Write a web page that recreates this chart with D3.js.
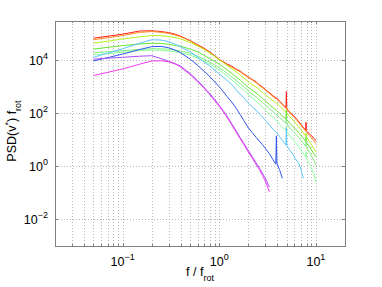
<!DOCTYPE html>
<html>
<head>
<meta charset="utf-8">
<script src="https://cdn.jsdelivr.net/npm/d3@7"></script>
<style>
  body { margin: 0; background: #fff; }
  svg { display: block; font-family: "Liberation Sans", Arial, sans-serif; }
</style>
</head>
<body>
<div id="chart"></div>
<script>
// frequency bins (f / f_rot)
const freq = [0.05, 0.1, 0.15, 0.2, 0.25, 0.3, 0.35, 0.4, 0.5, 0.6, 0.7, 0.8, 0.9, 1.0,
  1.1, 1.2, 1.35, 1.5, 1.65, 1.8, 2.0, 2.2, 2.4, 2.6, 2.8, 3.0, 3.3, 3.6,
  3.85, 3.9, 3.95, 4.2, 4.5, 4.9, 4.95, 5.0, 5.4, 5.8, 6.2, 6.6, 7.0, 7.4,
  7.85, 7.9, 7.95, 8.2, 8.6, 9.0, 9.5, 10];

// log10 of PSD(v*) f_rot (one array per curve)
const red = [4.83, 4.98, 5.10, 5.11, 5.08, 5.04, 4.98, 4.90, 4.74, 4.58, 4.45, 4.31, 4.17, 4.03,
  3.94, 3.86, 3.77, 3.66, 3.59, 3.48, 3.37, 3.27, 3.19, 3.07, 2.99, 2.90, 2.78, 2.66,
  2.59, 2.56, 2.57, 2.46, 2.36, 2.20, 2.82, 2.16, 2.03, 1.93, 1.82, 1.70, 1.58, 1.47,
  1.36, 1.66, 1.33, 1.30, 1.22, 1.16, 1.06, 0.97];
const orange = [4.77, 4.93, 5.05, 5.08, 5.05, 5.01, 4.95, 4.88, 4.73, 4.56, 4.42, 4.29, 4.15, 4.02,
  3.92, 3.83, 3.74, 3.64, 3.56, 3.46, 3.35, 3.25, 3.16, 3.05, 2.96, 2.88, 2.75, 2.63,
  2.55, 2.54, 2.52, 2.43, 2.32, 2.18, 2.24, 2.15, 2.00, 1.89, 1.78, 1.66, 1.55, 1.43,
  1.33, 1.38, 1.31, 1.25, 1.16, 1.08, 0.98, 0.86];
const lime = [4.64, 4.80, 4.88, 4.93, 4.92, 4.89, 4.85, 4.80, 4.67, 4.53, 4.40, 4.27, 4.14, 4.01,
  3.91, 3.81, 3.68, 3.56, 3.44, 3.33, 3.18, 3.08, 2.99, 2.88, 2.79, 2.70, 2.58, 2.47,
  2.40, 2.38, 2.37, 2.28, 2.17, 2.04, 2.12, 2.01, 1.86, 1.74, 1.62, 1.50, 1.38, 1.26,
  1.15, 1.24, 1.13, 1.04, 0.93, 0.82, 0.68, 0.55];
const green = [4.42, 4.55, 4.61, 4.64, 4.63, 4.60, 4.56, 4.52, 4.42, 4.31, 4.18, 4.06, 3.95, 3.85,
  3.75, 3.64, 3.50, 3.37, 3.25, 3.12, 2.98, 2.87, 2.77, 2.66, 2.56, 2.47, 2.33, 2.21,
  2.13, 2.11, 2.10, 2.00, 1.90, 1.78, 2.08, 1.76, 1.62, 1.50, 1.39, 1.28, 1.17, 1.06,
  0.95, 1.12, 0.93, 0.84, 0.73, 0.62, 0.49, 0.36];
const lightGreen = [4.28, 4.36, 4.41, 4.43, 4.43, 4.41, 4.38, 4.35, 4.26, 4.15, 4.04, 3.93, 3.82, 3.72,
  3.62, 3.51, 3.37, 3.24, 3.11, 2.99, 2.84, 2.72, 2.62, 2.51, 2.41, 2.32, 2.18, 2.06,
  1.97, 1.95, 1.94, 1.84, 1.74, 1.62, 1.80, 1.60, 1.44, 1.32, 1.21, 1.10, 0.98, 0.87,
  0.76, 0.92, 0.74, 0.64, 0.52, 0.40, 0.24, 0.05];
const mint = [4.20, 4.30, 4.36, 4.38, 4.37, 4.35, 4.32, 4.28, 4.19, 4.08, 3.97, 3.85, 3.74, 3.63,
  3.52, 3.41, 3.26, 3.12, 2.98, 2.86, 2.70, 2.57, 2.46, 2.34, 2.23, 2.13, 1.98, 1.85,
  1.75, 1.73, 1.72, 1.60, 1.48, 1.34, 1.52, 1.32, 1.14, 1.00, 0.88, 0.75, 0.62, 0.49,
  0.37, 0.55, 0.35, 0.22, 0.08, -0.07, -0.28, -0.58];
const cyan = [4.11, 4.43, 4.64, 4.77, 4.76, 4.70, 4.60, 4.50, 4.32, 4.10, 3.93, 3.78, 3.62, 3.48,
  3.36, 3.24, 3.08, 2.88, 2.72, 2.58, 2.38, 2.24, 2.12, 1.98, 1.86, 1.74, 1.56, 1.40,
  1.30, 1.28, 1.26, 1.12, 0.98, 0.80, 1.45, 0.78, 0.60, 0.44, 0.26, 0.14, -0.10, -0.45];
const blue = [3.97, 4.23, 4.40, 4.51, 4.52, 4.47, 4.38, 4.28, 4.04, 3.80, 3.58, 3.38, 3.18, 3.00,
  2.82, 2.64, 2.42, 2.18, 1.95, 1.72, 1.45, 1.27, 1.10, 0.95, 0.82, 0.68, 0.48, 0.25,
  0.08, 1.15, 0.12, -0.12, -0.45];
const purple = [4.04, 4.11, 4.15, 4.17, 4.06, 3.96, 3.87, 3.77, 3.50, 3.22, 2.97, 2.74, 2.52, 2.30,
  2.10, 1.90, 1.60, 1.33, 1.08, 0.86, 0.60, 0.36, 0.14, -0.06, -0.26, -0.45, -0.78];
const magenta = [3.42, 3.67, 3.85, 3.97, 3.98, 3.94, 3.86, 3.74, 3.46, 3.18, 2.94, 2.70, 2.47, 2.27,
  2.06, 1.86, 1.56, 1.28, 1.04, 0.82, 0.54, 0.30, 0.08, -0.12, -0.34, -0.56, -0.96];

const curves = [red, orange, lime, green, lightGreen, mint, cyan, blue, purple, magenta];
const curveColors = ['#ff1a1a', '#ff8c1a', '#b5f21a', '#66e633', '#7fef7f', '#8cff9e',
  '#5cc6ff', '#3355ee', '#a64dff', '#f03cf0'];

const xMajor = [0.1, 1, 10];
const yMajor = [1e-2, 1, 1e2, 1e4];

const width = 382, height = 287;
const plot = {left: 55, right: 345, top: 21, bottom: 246};

const svg = d3.select('#chart').append('svg')
  .attr('width', width)
  .attr('height', height);

const x = d3.scaleLog().domain([0.02, 20]).range([plot.left, plot.right]);
const y = d3.scaleLog().domain([1e-3, 3e5]).range([plot.bottom, plot.top]);

const xMinor = x.ticks().filter(t => !xMajor.some(m => Math.abs(m - t) < 1e-9));

// grid
const grid = svg.append('g')
  .attr('stroke', '#b8b8b8')
  .attr('stroke-width', 1)
  .attr('stroke-dasharray', '1,2');

grid.selectAll('line.gx')
  .data(x.ticks())
  .join('line')
    .attr('class', 'gx')
    .attr('x1', d => Math.round(x(d)) + 0.5)
    .attr('x2', d => Math.round(x(d)) + 0.5)
    .attr('y1', plot.top)
    .attr('y2', plot.bottom);

grid.selectAll('line.gy')
  .data(yMajor)
  .join('line')
    .attr('class', 'gy')
    .attr('x1', plot.left)
    .attr('x2', plot.right)
    .attr('y1', d => Math.round(y(d)) + 0.5)
    .attr('y2', d => Math.round(y(d)) + 0.5);

// curves
const line = d3.line()
  .defined(d => d[1] != null)
  .x(d => x(d[0]))
  .y(d => y(Math.pow(10, d[1])));

svg.append('g')
  .selectAll('path')
  .data(curves)
  .join('path')
    .attr('fill', 'none')
    .attr('stroke', (d, i) => curveColors[i])
    .attr('stroke-width', 1)
    .attr('stroke-linejoin', 'round')
    .attr('d', d => line(d.map((v, i) => [freq[i], v])));

// box + ticks
const frame = svg.append('g').attr('stroke', '#808080').attr('fill', 'none');
frame.append('rect')
  .attr('x', plot.left + 0.5)
  .attr('y', plot.top + 0.5)
  .attr('width', plot.right - plot.left)
  .attr('height', plot.bottom - plot.top);

const tickX = (vals, len) => {
  vals.forEach(t => {
    const px = Math.round(x(t)) + 0.5;
    frame.append('line').attr('x1', px).attr('x2', px).attr('y1', plot.bottom).attr('y2', plot.bottom - len);
    frame.append('line').attr('x1', px).attr('x2', px).attr('y1', plot.top).attr('y2', plot.top + len);
  });
};
tickX(xMajor, 3);
tickX(xMinor, 2);
yMajor.forEach(t => {
  const py = Math.round(y(t)) + 0.5;
  frame.append('line').attr('x1', plot.left).attr('x2', plot.left + 3).attr('y1', py).attr('y2', py);
  frame.append('line').attr('x1', plot.right).attr('x2', plot.right - 3).attr('y1', py).attr('y2', py);
});

// tick labels
const expLabel = (g, base, exp) => {
  g.append('tspan').text(base);
  g.append('tspan').attr('dy', -6).attr('font-size', 9).text(exp);
};

xMajor.forEach(t => {
  const lab = svg.append('text')
    .attr('x', x(t))
    .attr('y', 266)
    .attr('font-size', 12.5)
    .attr('text-anchor', 'middle')
    .attr('fill', '#000');
  expLabel(lab, '10', String(Math.round(Math.log10(t))).replace('-', '\u2212'));
});

yMajor.forEach(t => {
  const lab = svg.append('text')
    .attr('x', 48)
    .attr('y', y(t) + 5)
    .attr('font-size', 12.5)
    .attr('text-anchor', 'end')
    .attr('fill', '#000');
  expLabel(lab, '10', String(Math.round(Math.log10(t))).replace('-', '\u2212'));
});

// axis titles
const xt = svg.append('text')
  .attr('x', 200)
  .attr('y', 276)
  .attr('font-size', 12.5)
  .attr('text-anchor', 'middle');
xt.append('tspan').text('f / f');
xt.append('tspan').attr('dy', 5).attr('font-size', 9).text('rot');

const yt = svg.append('text')
  .attr('transform', 'translate(16,131) rotate(-90)')
  .attr('font-size', 12.5)
  .attr('text-anchor', 'middle');
yt.append('tspan').text('PSD(v');
yt.append('tspan').attr('dy', -5).attr('font-size', 9).text('*');
yt.append('tspan').attr('dy', 5).text(') f');
yt.append('tspan').attr('dy', 5).attr('font-size', 9).text('rot');
</script>
</body>
</html>
